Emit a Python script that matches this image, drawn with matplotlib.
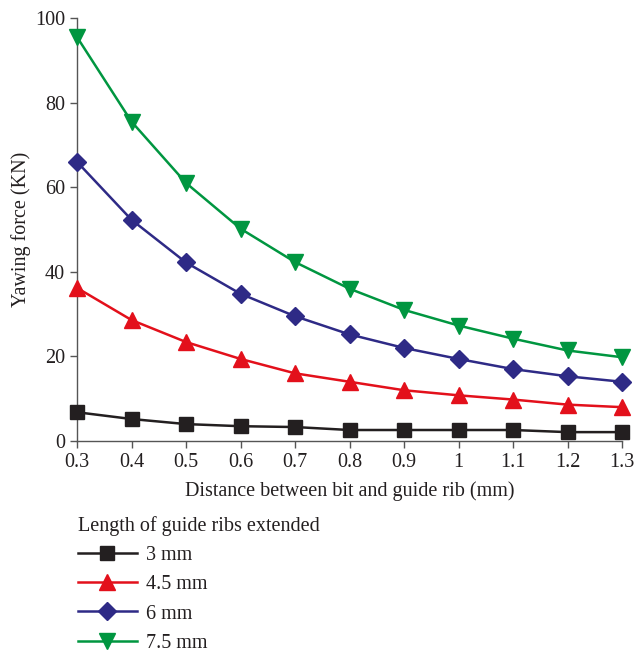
import matplotlib
matplotlib.use("Agg")
import matplotlib.pyplot as plt

plt.rcParams['font.family'] = ['Liberation Serif', 'DejaVu Serif']

x = [0.3, 0.4, 0.5, 0.6, 0.7, 0.8, 0.9, 1.0, 1.1, 1.2, 1.3]
y_3mm = [6.8, 5.2, 4.0, 3.5, 3.3, 2.6, 2.6, 2.6, 2.6, 2.1, 2.1]
y_45mm = [36.2, 28.6, 23.4, 19.4, 16.0, 14.0, 12.0, 10.8, 9.8, 8.6, 8.0]
y_6mm = [66.0, 52.3, 42.2, 34.8, 29.5, 25.2, 22.0, 19.4, 17.0, 15.3, 14.0]
y_75mm = [95.5, 75.5, 61.0, 50.2, 42.3, 36.0, 31.0, 27.3, 24.2, 21.4, 19.8]
labels = ['3 mm', '4.5 mm', '6 mm', '7.5 mm']
xticks = [0.3, 0.4, 0.5, 0.6, 0.7, 0.8, 0.9, 1.0, 1.1, 1.2, 1.3]
xticklabels = ['0.3', '0.4', '0.5', '0.6', '0.7', '0.8', '0.9', '1', '1.1', '1.2', '1.3']
yticks = [0, 20, 40, 60, 80, 100]

fig = plt.figure(figsize=(6.35, 6.52), dpi=100)
ax = fig.add_axes([77/635, 1-441/652, (622-77)/635, (441-18)/652])

txt = '#231f20'
fs = 14.5
styles = [
    (y_3mm, '#231f20', 's', 9.5),
    (y_45mm, '#e3101b', '^', 11.5),
    (y_6mm, '#2e2a86', 'D', 9.5),
    (y_75mm, '#009640', 'v', 11.5),
]
for (ys, c, m, ms), lab in zip(styles, labels):
    ax.plot(x, ys, color=c, marker=m, markersize=ms, linewidth=1.8, label=lab,
            clip_on=False, zorder=3)

ax.set_xlim(0.3, 1.3)
ax.set_ylim(0, 100)
ax.set_xticks(xticks)
ax.set_xticklabels(xticklabels)
ax.set_yticks(yticks)
for s in ['top', 'right']:
    ax.spines[s].set_visible(False)
for s in ['left', 'bottom']:
    ax.spines[s].set_color('#555555')
    ax.spines[s].set_linewidth(1.0)
ax.tick_params(axis='both', direction='out', length=5, width=1.0, color='#555555',
               labelsize=fs, labelcolor=txt)
ax.set_xlabel('Distance between bit and guide rib (mm)', fontsize=fs, color=txt, labelpad=7)
ax.set_ylabel('Yawing force (KN)', fontsize=fs, color=txt, labelpad=3)

h, l = ax.get_legend_handles_labels()
leg = fig.legend(h, l, title='Length of guide ribs extended', loc='upper left',
                 bbox_to_anchor=(64/635, 1-502/652), frameon=False, fontsize=fs,
                 title_fontsize=fs, handlelength=2.9, handletextpad=0.45,
                 labelspacing=0.5, alignment='left', borderpad=0.2)
for t in leg.get_texts():
    t.set_color(txt)
leg.get_title().set_color(txt)

fig.savefig('out.png', dpi=100)
